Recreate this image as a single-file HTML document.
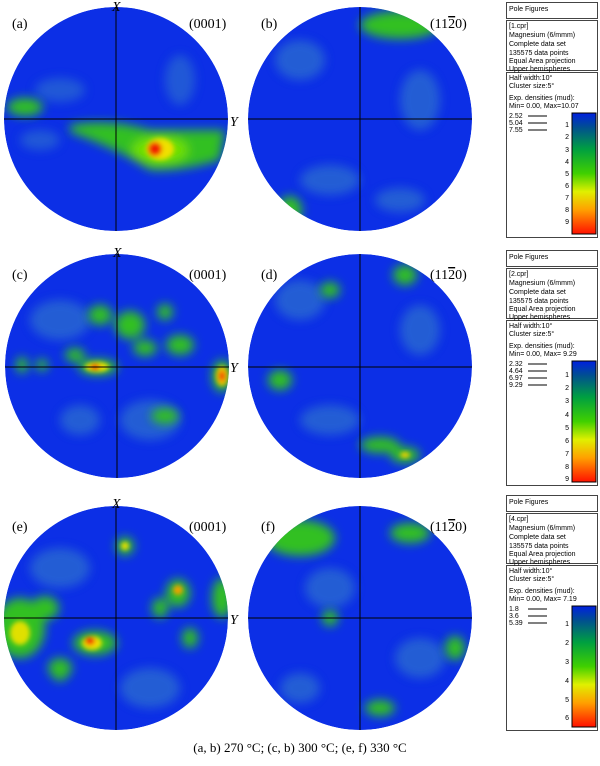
<!DOCTYPE html>
<html><head><style>
body{margin:0;background:#fff;width:600px;height:761px;overflow:hidden;font-family:"Liberation Serif",serif}
.lg{font-family:"Liberation Sans",sans-serif;font-size:7px;fill:#000}
</style></head><body>
<svg width="600" height="761" xmlns="http://www.w3.org/2000/svg">
<defs>
<filter id="b" x="-50%" y="-50%" width="200%" height="200%"><feGaussianBlur stdDeviation="5"/></filter>
<filter id="s" x="-50%" y="-50%" width="200%" height="200%"><feGaussianBlur stdDeviation="2.5"/></filter>
<clipPath id="c1"><circle cx="116" cy="119" r="112"/></clipPath>
<clipPath id="c2"><circle cx="360" cy="119" r="112"/></clipPath>
<clipPath id="c3"><circle cx="117" cy="366" r="112"/></clipPath>
<clipPath id="c4"><circle cx="360" cy="366" r="112"/></clipPath>
<clipPath id="c5"><circle cx="116" cy="610" r="112"/></clipPath>
<clipPath id="c6"><circle cx="360" cy="610" r="112"/></clipPath>
<linearGradient id="cb" x1="0" y1="0" x2="0" y2="1">
<stop offset="0" stop-color="#0020e0"/><stop offset="0.12" stop-color="#005090"/><stop offset="0.3" stop-color="#00a040"/><stop offset="0.5" stop-color="#40d000"/><stop offset="0.65" stop-color="#e0f000"/><stop offset="0.8" stop-color="#ffa000"/><stop offset="1" stop-color="#ff1000"/></linearGradient>
</defs>

<!-- (a) -->
<g clip-path="url(#c1)">
<circle cx="116" cy="119" r="112" fill="#0c2fe6"/>
<g filter="url(#b)" fill="#2a6ad0" opacity="0.7"><ellipse cx="60" cy="90" rx="25" ry="12"/><ellipse cx="180" cy="80" rx="15" ry="25"/><ellipse cx="40" cy="140" rx="20" ry="10"/></g>
<g filter="url(#b)"><ellipse cx="25" cy="107" rx="18" ry="9" fill="#30c020"/>
<path d="M70 125 Q110 118 150 130 Q190 130 225 130 L220 160 Q180 172 150 170 Q120 150 70 132Z" fill="#30c020"/>
<ellipse cx="160" cy="150" rx="28" ry="14" fill="#70e000"/></g>
<g filter="url(#s)"><ellipse cx="160" cy="149" rx="14" ry="11" fill="#f0e000"/><ellipse cx="155" cy="149" rx="7" ry="7" fill="#f02000"/></g>
<line x1="2" y1="119" x2="230" y2="119" stroke="#000" stroke-width="1"/>
<line x1="116" y1="5" x2="116" y2="233" stroke="#000" stroke-width="1"/>
</g>
<!-- (b) -->
<g clip-path="url(#c2)">
<circle cx="360" cy="119" r="112" fill="#0c2fe6"/>
<g filter="url(#b)" fill="#2a6ad0" opacity="0.8"><ellipse cx="300" cy="60" rx="25" ry="20"/><ellipse cx="420" cy="100" rx="20" ry="30"/><ellipse cx="330" cy="180" rx="30" ry="15"/><ellipse cx="400" cy="200" rx="25" ry="12"/></g>
<g filter="url(#b)"><ellipse cx="400" cy="25" rx="40" ry="14" fill="#30c020"/><ellipse cx="290" cy="210" rx="12" ry="14" fill="#30c020"/><ellipse cx="470" cy="50" rx="10" ry="12" fill="#30a050"/></g>
<line x1="246" y1="119" x2="474" y2="119" stroke="#000"/>
<line x1="360" y1="5" x2="360" y2="233" stroke="#000"/>
</g>
<!-- (c) -->
<g clip-path="url(#c3)">
<circle cx="117" cy="366" r="112" fill="#0c2fe6"/>
<g filter="url(#b)" fill="#2a6ad0" opacity="0.8"><ellipse cx="60" cy="320" rx="30" ry="20"/><ellipse cx="150" cy="420" rx="30" ry="20"/><ellipse cx="80" cy="420" rx="20" ry="15"/></g>
<g filter="url(#b)" fill="#30c020"><ellipse cx="100" cy="315" rx="12" ry="10"/><ellipse cx="130" cy="325" rx="15" ry="14"/><ellipse cx="145" cy="348" rx="12" ry="8"/><ellipse cx="165" cy="312" rx="8" ry="8"/><ellipse cx="180" cy="345" rx="14" ry="10"/><ellipse cx="75" cy="355" rx="10" ry="7"/><ellipse cx="98" cy="367" rx="20" ry="8"/><ellipse cx="222" cy="376" rx="10" ry="16"/><ellipse cx="165" cy="416" rx="14" ry="8"/><ellipse cx="22" cy="365" rx="6" ry="8"/><ellipse cx="42" cy="365" rx="6" ry="6"/></g>
<g filter="url(#s)"><ellipse cx="97" cy="367" rx="12" ry="5" fill="#f0e000"/><ellipse cx="95" cy="367" rx="5" ry="3" fill="#f02000"/><ellipse cx="222" cy="376" rx="6" ry="10" fill="#f0c000"/><ellipse cx="222" cy="376" rx="3" ry="5" fill="#f03000"/></g>
<line x1="2" y1="367" x2="230" y2="367" stroke="#000"/>
<line x1="117" y1="251" x2="117" y2="479" stroke="#000"/>
</g>
<!-- (d) -->
<g clip-path="url(#c4)">
<circle cx="360" cy="366" r="112" fill="#0c2fe6"/>
<g filter="url(#b)" fill="#2a6ad0" opacity="0.8"><ellipse cx="300" cy="300" rx="25" ry="20"/><ellipse cx="420" cy="330" rx="20" ry="25"/><ellipse cx="330" cy="420" rx="30" ry="15"/></g>
<g filter="url(#b)" fill="#30c020"><ellipse cx="280" cy="380" rx="12" ry="10"/><ellipse cx="405" cy="275" rx="12" ry="10"/><ellipse cx="380" cy="445" rx="20" ry="8"/><ellipse cx="405" cy="455" rx="15" ry="8"/><ellipse cx="330" cy="290" rx="10" ry="8"/></g>
<g filter="url(#s)"><ellipse cx="405" cy="455" rx="5" ry="3" fill="#f0d000"/></g>
<line x1="246" y1="367" x2="474" y2="367" stroke="#000"/>
<line x1="360" y1="251" x2="360" y2="479" stroke="#000"/>
</g>
<!-- (e) -->
<g transform="translate(0,8)">
<g clip-path="url(#c5)">
<circle cx="116" cy="610" r="112" fill="#0c2fe6"/>
<g filter="url(#b)" fill="#2a6ad0" opacity="0.8"><ellipse cx="60" cy="560" rx="30" ry="20"/><ellipse cx="150" cy="680" rx="30" ry="20"/></g>
<g filter="url(#b)" fill="#30c020"><ellipse cx="20" cy="620" rx="25" ry="30"/><ellipse cx="45" cy="600" rx="14" ry="12"/><ellipse cx="95" cy="635" rx="22" ry="12"/><ellipse cx="125" cy="538" rx="9" ry="9"/><ellipse cx="178" cy="585" rx="12" ry="14"/><ellipse cx="222" cy="590" rx="10" ry="20"/><ellipse cx="190" cy="630" rx="8" ry="10"/><ellipse cx="60" cy="665" rx="8" ry="8"/><ellipse cx="160" cy="600" rx="8" ry="10"/><ellipse cx="60" cy="660" rx="12" ry="10"/></g>
<g filter="url(#s)"><ellipse cx="20" cy="625" rx="10" ry="12" fill="#e0e000"/><ellipse cx="92" cy="635" rx="10" ry="7" fill="#f0e000"/><ellipse cx="90" cy="633" rx="5" ry="4" fill="#f02000"/><ellipse cx="178" cy="582" rx="5" ry="5" fill="#f0a000"/><ellipse cx="125" cy="538" rx="4" ry="4" fill="#f0e000"/></g>
<line x1="2" y1="610" x2="230" y2="610" stroke="#000"/>
<line x1="116" y1="496" x2="116" y2="724" stroke="#000"/>
</g>
<!-- (f) -->
<g clip-path="url(#c6)">
<circle cx="360" cy="610" r="112" fill="#0c2fe6"/>
<g filter="url(#b)" fill="#2a6ad0" opacity="0.8"><ellipse cx="330" cy="580" rx="25" ry="20"/><ellipse cx="420" cy="650" rx="25" ry="20"/><ellipse cx="300" cy="680" rx="20" ry="15"/></g>
<g filter="url(#b)" fill="#30c020"><ellipse cx="300" cy="530" rx="35" ry="18"/><ellipse cx="410" cy="525" rx="20" ry="10"/><ellipse cx="380" cy="700" rx="15" ry="8"/><ellipse cx="455" cy="640" rx="10" ry="12"/><ellipse cx="330" cy="610" rx="8" ry="8"/></g>
<line x1="246" y1="610" x2="474" y2="610" stroke="#000"/>
<line x1="360" y1="496" x2="360" y2="724" stroke="#000"/>
</g>
</g>

<g font-size="14" font-family="Liberation Serif, serif">
<text x="12" y="28">(a)</text><text x="189" y="28">(0001)</text><text x="261" y="28">(b)</text><text x="430" y="28">(11<tspan text-decoration="overline">2</tspan>0)</text>
<text x="12" y="279">(c)</text><text x="189" y="279">(0001)</text><text x="261" y="279">(d)</text><text x="430" y="279">(11<tspan text-decoration="overline">2</tspan>0)</text>
<text x="12" y="531">(e)</text><text x="189" y="531">(0001)</text><text x="261" y="531">(f)</text><text x="430" y="531">(11<tspan text-decoration="overline">2</tspan>0)</text>
<g font-style="italic"><text x="112" y="11">X</text><text x="230" y="126">Y</text><text x="113" y="257">X</text><text x="230" y="372">Y</text><text x="112" y="508">X</text><text x="230" y="624">Y</text></g>
<text x="300" y="752" text-anchor="middle" font-size="13">(a,  b)  270  °C; (c, b) 300 °C; (e, f) 330 °C</text>
</g>

<!-- legends -->
<g stroke="#444" fill="none" stroke-width="1">
<rect x="506.5" y="2.5" width="91" height="16"/><rect x="506.5" y="20.5" width="91" height="50"/><rect x="506.5" y="72.5" width="91" height="165"/>
<rect x="506.5" y="250.5" width="91" height="16"/><rect x="506.5" y="268.5" width="91" height="50"/><rect x="506.5" y="320.5" width="91" height="165"/>
<rect x="506.5" y="495.5" width="91" height="16"/><rect x="506.5" y="513.5" width="91" height="50"/><rect x="506.5" y="565.5" width="91" height="165"/>
</g>
<g class="lg">
<text x="509" y="11">Pole Figures</text>
<text x="509" y="28">[1.cpr]</text><text x="509" y="37">Magnesium (6/mmm)</text><text x="509" y="46">Complete data set</text><text x="509" y="55">135575 data points</text><text x="509" y="63">Equal Area projection</text><text x="509" y="71">Upper hemispheres</text>
<text x="509" y="80">Half width:10°</text><text x="509" y="88">Cluster size:5°</text><text x="509" y="100">Exp. densities (mud):</text><text x="509" y="108">Min= 0.00, Max=10.07</text>
<text x="509" y="118">2.52</text><text x="509" y="125">5.04</text><text x="509" y="132">7.55</text>
<text x="509" y="259">Pole Figures</text>
<text x="509" y="276">[2.cpr]</text><text x="509" y="285">Magnesium (6/mmm)</text><text x="509" y="294">Complete data set</text><text x="509" y="303">135575 data points</text><text x="509" y="311">Equal Area projection</text><text x="509" y="319">Upper hemispheres</text>
<text x="509" y="328">Half width:10°</text><text x="509" y="336">Cluster size:5°</text><text x="509" y="348">Exp. densities (mud):</text><text x="509" y="356">Min= 0.00, Max= 9.29</text>
<text x="509" y="366">2.32</text><text x="509" y="373">4.64</text><text x="509" y="380">6.97</text><text x="509" y="387">9.29</text>
<text x="509" y="504">Pole Figures</text>
<text x="509" y="521">[4.cpr]</text><text x="509" y="530">Magnesium (6/mmm)</text><text x="509" y="539">Complete data set</text><text x="509" y="548">135575 data points</text><text x="509" y="556">Equal Area projection</text><text x="509" y="564">Upper hemispheres</text>
<text x="509" y="573">Half width:10°</text><text x="509" y="581">Cluster size:5°</text><text x="509" y="593">Exp. densities (mud):</text><text x="509" y="601">Min= 0.00, Max= 7.19</text>
<text x="509" y="611">1.8</text><text x="509" y="618">3.6</text><text x="509" y="625">5.39</text>
</g>
<g stroke="#000" stroke-width="1">
<line x1="528" y1="116" x2="547" y2="116"/><line x1="528" y1="123" x2="547" y2="123"/><line x1="528" y1="130" x2="547" y2="130"/>
<line x1="528" y1="364" x2="547" y2="364"/><line x1="528" y1="371" x2="547" y2="371"/><line x1="528" y1="378" x2="547" y2="378"/><line x1="528" y1="385" x2="547" y2="385"/>
<line x1="528" y1="609" x2="547" y2="609"/><line x1="528" y1="616" x2="547" y2="616"/><line x1="528" y1="623" x2="547" y2="623"/>
</g>
<rect x="572" y="113" width="24" height="121" fill="url(#cb)" stroke="#000"/>
<rect x="572" y="361" width="24" height="121" fill="url(#cb)" stroke="#000"/>
<rect x="572" y="606" width="24" height="121" fill="url(#cb)" stroke="#000"/>
<g class="lg" font-size="8" text-anchor="end">
<text x="569" y="127">1</text><text x="569" y="139">2</text><text x="569" y="152">3</text><text x="569" y="164">4</text><text x="569" y="176">5</text><text x="569" y="188">6</text><text x="569" y="200">7</text><text x="569" y="212">8</text><text x="569" y="224">9</text>
<text x="569" y="377">1</text><text x="569" y="390">2</text><text x="569" y="403">3</text><text x="569" y="417">4</text><text x="569" y="430">5</text><text x="569" y="443">6</text><text x="569" y="456">7</text><text x="569" y="469">8</text><text x="569" y="481">9</text>
<text x="569" y="626">1</text><text x="569" y="645">2</text><text x="569" y="664">3</text><text x="569" y="683">4</text><text x="569" y="702">5</text><text x="569" y="720">6</text>
</g>
</svg>
</body></html>
